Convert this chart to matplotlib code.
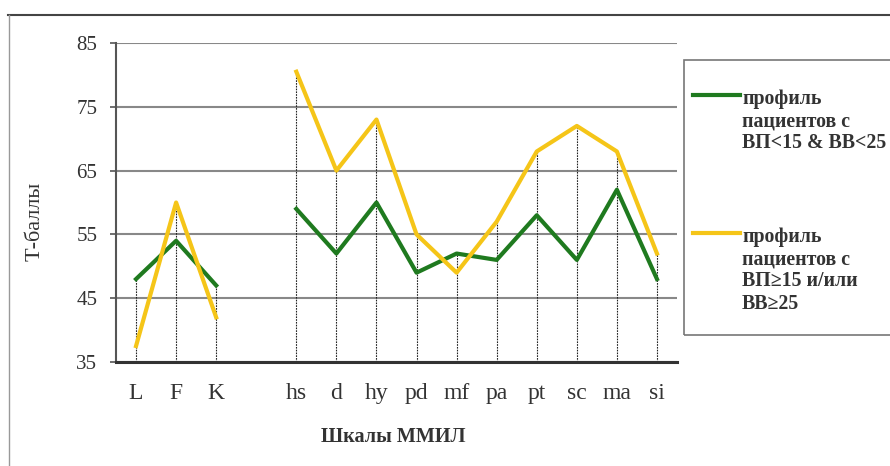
import numpy as np
import matplotlib.pyplot as plt
from matplotlib.lines import Line2D
from matplotlib.patches import Rectangle

# шкалы ММИЛ (пустая позиция - разрыв между L F K и клиническими шкалами)
scales = ['L', 'F', 'K', '', 'hs', 'd', 'hy', 'pd', 'mf', 'pa', 'pt', 'sc', 'ma', 'si']
green_vals = [48, 54, 47, np.nan, 59, 52, 60, 49, 52, 51, 58, 51, 62, 48]
yellow_vals = [37.5, 60, 42, np.nan, 80.5, 65, 73, 55, 49, 57, 68, 72, 68, 52]
labels = ['профиль\nпациентов с\nВП<15 & ВВ<25',
          'профиль\nпациентов с\nВП≥15 и/или\nВВ≥25']
colors = ['#1f7a1f', '#f5c518']
yticks = [35, 45, 55, 65, 75, 85]

plt.rcParams['font.family'] = ['Liberation Serif', 'DejaVu Serif']

W, H = 890, 466
fig = plt.figure(figsize=(W / 100, H / 100), dpi=100)
ax = fig.add_axes([116 / W, 1 - 362 / H, (677 - 116) / W, (362 - 43) / H])

x = np.arange(len(scales))
g = np.array(green_vals, dtype=float)
yv = np.array(yellow_vals, dtype=float)

# линии проекции
top = np.fmax(g, yv)
ok = ~np.isnan(top)
ax.vlines(x[ok], yticks[0], top[ok], colors='#222222', linewidth=0.8,
          linestyles=(0, (1.5, 1)), zorder=2)

ax.plot(x, g, color=colors[0], linewidth=3, zorder=3)
ax.plot(x, yv, color=colors[1], linewidth=3, zorder=4)

ax.set_xlim(-0.5, len(scales) - 0.5)
ax.set_ylim(35, 85)
ax.set_yticks(yticks)
ax.set_xticks(x)
ax.set_xticklabels(scales)
ax.tick_params(axis='x', length=0, pad=15, labelsize=17, colors='#333333')
ax.tick_params(axis='y', length=4.5, width=1.2, pad=9, labelsize=15,
               colors='#555555', labelcolor='#333333')
ax.grid(axis='y', color='#888888', linewidth=1.5, zorder=1)
for s in ['top', 'right']:
    ax.spines[s].set_visible(False)
ax.spines['left'].set_color('#555555')
ax.spines['left'].set_linewidth(1.5)
ax.spines['bottom'].set_color('#333333')
ax.spines['bottom'].set_linewidth(2.2)
ax.spines['bottom'].set_zorder(5)

fig.text(35 / W, 1 - 221 / H, 'Т-баллы', rotation=90, ha='center', va='center',
         fontsize=16, color='#333333')
fig.text(393 / W, 1 - 437 / H, 'Шкалы ММИЛ', ha='center', va='center',
         fontsize=14.5, fontweight='bold', color='#333333')

# внешняя рамка
fig.add_artist(Line2D([8 / W, 1], [1 - 15 / H] * 2, color='#444444', linewidth=1.5))
fig.add_artist(Line2D([9 / W] * 2, [0, 1 - 15 / H], color='#999999', linewidth=1))

# легенда
fig.add_artist(Rectangle((684 / W, 1 - 335 / H), (W + 20 - 684) / W, (335 - 60) / H,
                         fill=False, edgecolor='#777777', linewidth=1.2,
                         transform=fig.transFigure))
for ly, lab, col in [(95, labels[0], colors[0]), (233, labels[1], colors[1])]:
    fig.add_artist(Line2D([693 / W, 740 / W], [1 - ly / H] * 2, color=col, linewidth=3))
    fig.text(742 / W, 1 - (ly - 6) / H, lab, ha='left', va='top', fontsize=14.3,
             fontweight='bold', color='#333333', linespacing=1.15)

fig.savefig('out.png', dpi=100)
